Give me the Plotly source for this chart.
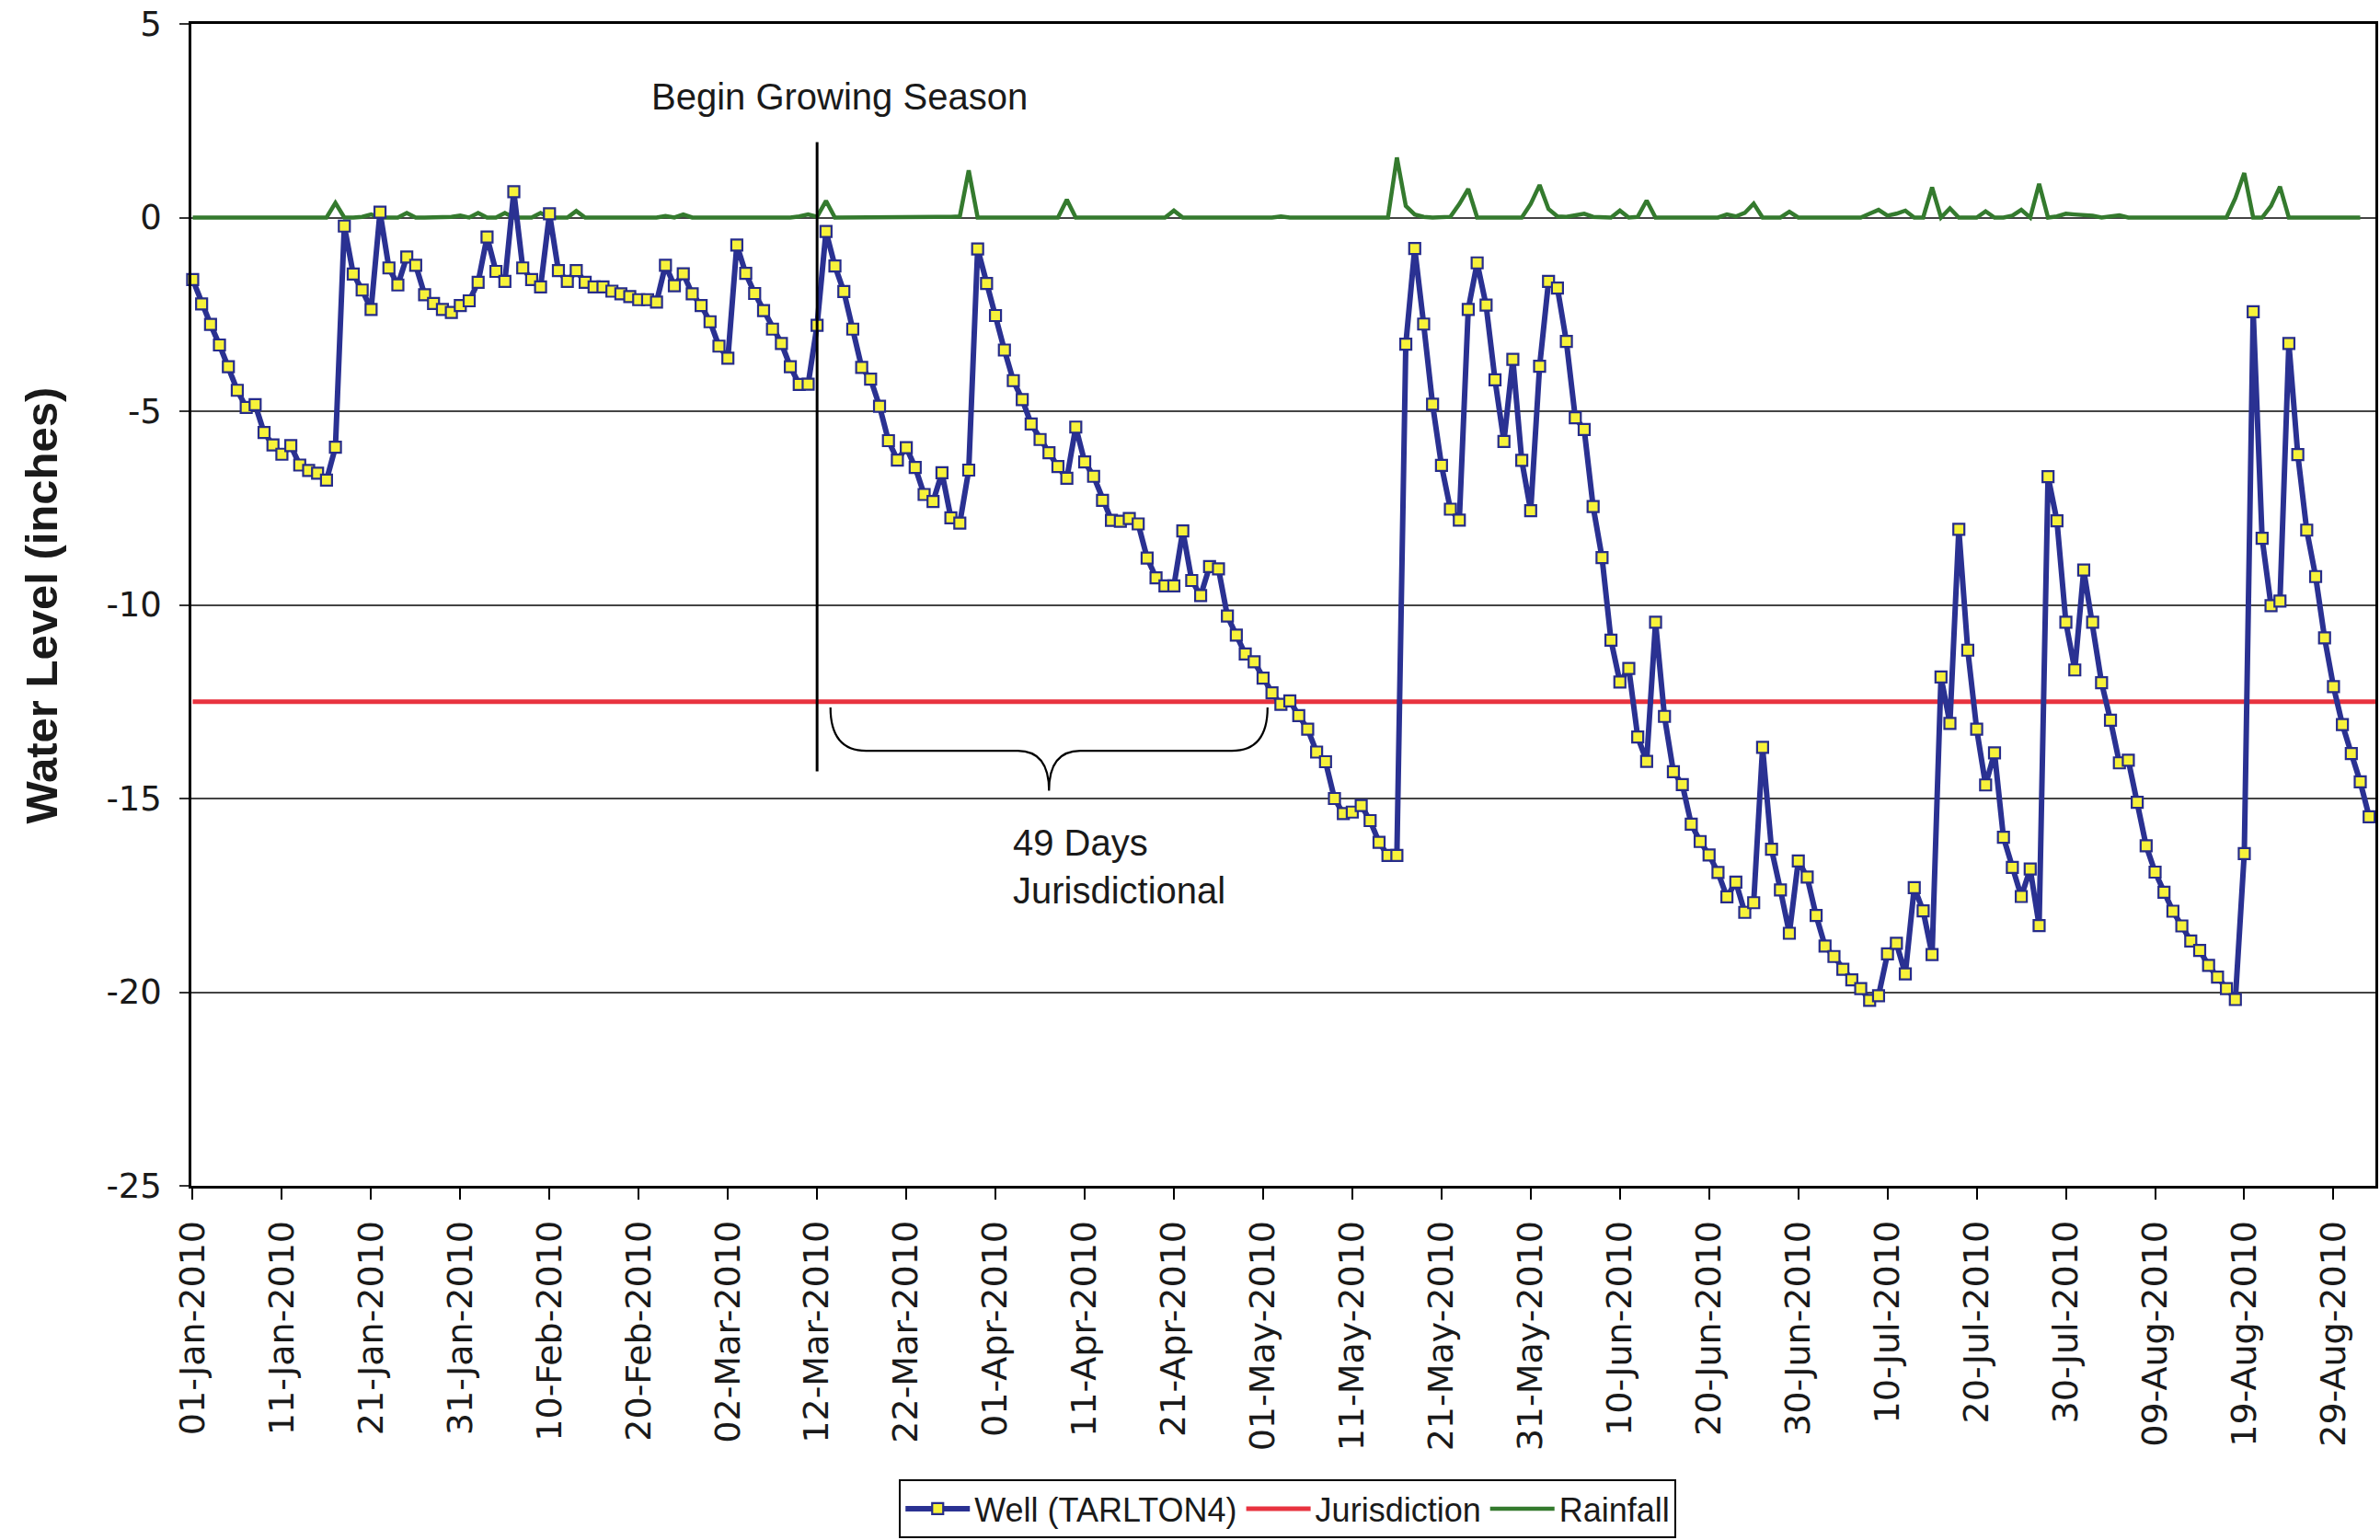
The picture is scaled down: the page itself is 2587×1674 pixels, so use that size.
import pandas as pd
import plotly.graph_objects as go

# ---- data -------------------------------------------------------------
START_DATE = "2010-01-01"

# daily well water level (inches), 01-Jan-2010 onwards
well_level = [
    -1.60, -2.23, -2.76, -3.29, -3.85, -4.46, -4.90, -4.83, -5.55, -5.87,
    -6.11, -5.89, -6.39, -6.53, -6.60, -6.78, -5.93, -0.22, -1.46, -1.87,
    -2.37, 0.14, -1.30, -1.74, -1.02, -1.23, -1.99, -2.22, -2.37, -2.45,
    -2.27, -2.15, -1.67, -0.50, -1.39, -1.65, 0.67, -1.30, -1.60, -1.79,
    0.10, -1.37, -1.65, -1.37, -1.67, -1.79, -1.79, -1.90, -1.97, -2.04,
    -2.12, -2.12, -2.18, -1.23, -1.76, -1.45, -1.97, -2.27, -2.69, -3.32,
    -3.63, -0.71, -1.44, -1.96, -2.40, -2.88, -3.25, -3.85, -4.31, -4.30,
    -2.78, -0.36, -1.25, -1.91, -2.88, -3.87, -4.17, -4.87, -5.76, -6.26,
    -5.94, -6.45, -7.15, -7.33, -6.59, -7.75, -7.89, -6.52, -0.81, -1.70,
    -2.53, -3.42, -4.21, -4.70, -5.33, -5.73, -6.07, -6.43, -6.73, -5.41,
    -6.31, -6.68, -7.30, -7.82, -7.84, -7.77, -7.91, -8.79, -9.30, -9.51,
    -9.51, -8.09, -9.37, -9.76, -9.01, -9.07, -10.29, -10.78, -11.27, -11.47,
    -11.89, -12.27, -12.57, -12.48, -12.86, -13.21, -13.80, -14.05, -15.00, -15.39,
    -15.35, -15.18, -15.57, -16.13, -16.47, -16.47, -3.27, -0.80, -2.75, -4.82,
    -6.40, -7.53, -7.81, -2.37, -1.17, -2.26, -4.19, -5.78, -3.66, -6.27,
    -7.57, -3.84, -1.65, -1.82, -3.20, -5.17, -5.47, -7.46, -8.78, -10.91,
    -11.99, -11.64, -13.41, -14.04, -10.45, -12.88, -14.31, -14.64, -15.66, -16.11,
    -16.46, -16.91, -17.54, -17.16, -17.94, -17.69, -13.68, -16.31, -17.36, -18.48,
    -16.61, -17.03, -18.02, -18.81, -19.08, -19.41, -19.68, -19.91, -20.21, -20.09,
    -19.01, -18.74, -19.53, -17.30, -17.90, -19.03, -11.86, -13.06, -8.05, -11.17,
    -13.21, -14.65, -13.82, -16.00, -16.78, -17.53, -16.82, -18.28, -6.69, -7.83,
    -10.45, -11.68, -9.10, -10.45, -12.01, -12.98, -14.08, -14.01, -15.10, -16.22,
    -16.90, -17.42, -17.91, -18.29, -18.68, -18.92, -19.31, -19.61, -19.91, -20.19,
    -16.42, -2.43, -8.28, -10.02, -9.90, -3.25, -6.12, -8.07, -9.27, -10.85,
    -12.11, -13.09, -13.84, -14.57, -15.47,
]

# daily rainfall (inches), same start date
rainfall = [
    0, 0, 0, 0, 0, 0, 0, 0, 0, 0,
    0, 0, 0, 0, 0, 0, 0.38, 0, 0, 0.02,
    0.08, 0, 0, 0, 0.12, 0, 0, 0, 0, 0.02,
    0.05, 0, 0.12, 0, 0, 0.12, 0, 0, 0, 0.12,
    0, 0, 0, 0.17, 0, 0, 0, 0, 0, 0,
    0, 0, 0, 0.04, 0, 0.08, 0, 0, 0, 0,
    0, 0, 0, 0, 0, 0, 0, 0, 0.03, 0.08,
    0.02, 0.43, 0, 0, 0, 0, 0, 0, 0, 0,
    0, 0, 0, 0, 0, 0.02, 0.03, 1.22, 0, 0,
    0, 0, 0, 0, 0, 0, 0, 0, 0.46, 0,
    0, 0, 0, 0, 0, 0, 0, 0, 0, 0,
    0.18, 0, 0, 0, 0, 0, 0, 0, 0, 0.02,
    0, 0, 0.03, 0, 0, 0, 0, 0, 0, 0,
    0, 0, 0, 0, 0, 1.55, 0.30, 0.08, 0.02, 0,
    0, 0.02, 0.35, 0.74, 0, 0, 0, 0, 0, 0,
    0.35, 0.84, 0.22, 0.03, 0.02, 0.05, 0.10, 0.02, 0, 0,
    0.18, 0, 0.02, 0.44, 0, 0, 0, 0, 0, 0,
    0, 0, 0.08, 0.03, 0.12, 0.36, 0, 0, 0, 0.15,
    0, 0, 0, 0, 0, 0, 0, 0, 0.10, 0.20,
    0.05, 0.10, 0.18, 0, 0, 0.78, 0, 0.24, 0, 0,
    0, 0.16, 0, 0, 0.05, 0.20, 0, 0.87, 0, 0.03,
    0.10, 0.08, 0.06, 0.05, 0, 0.03, 0.06, 0, 0, 0,
    0, 0, 0, 0, 0, 0, 0, 0, 0, 0.50,
    1.15, 0, 0, 0.30, 0.80, 0, 0, 0, 0, 0,
    0, 0, 0, 0,
]

jurisdiction_level = -12.5
jurisdiction_span = ["2010-01-01", "2010-09-03"]

tick_dates = [
    "2010-01-01", "2010-01-11", "2010-01-21", "2010-01-31", "2010-02-10",
    "2010-02-20", "2010-03-02", "2010-03-12", "2010-03-22", "2010-04-01",
    "2010-04-11", "2010-04-21", "2010-05-01", "2010-05-11", "2010-05-21",
    "2010-05-31", "2010-06-10", "2010-06-20", "2010-06-30", "2010-07-10",
    "2010-07-20", "2010-07-30", "2010-08-09", "2010-08-19", "2010-08-29",
]
tick_labels = [
    "01-Jan-2010", "11-Jan-2010", "21-Jan-2010", "31-Jan-2010", "10-Feb-2010",
    "20-Feb-2010", "02-Mar-2010", "12-Mar-2010", "22-Mar-2010", "01-Apr-2010",
    "11-Apr-2010", "21-Apr-2010", "01-May-2010", "11-May-2010", "21-May-2010",
    "31-May-2010", "10-Jun-2010", "20-Jun-2010", "30-Jun-2010", "10-Jul-2010",
    "20-Jul-2010", "30-Jul-2010", "09-Aug-2010", "19-Aug-2010", "29-Aug-2010",
]
y_tick_values = [5, 0, -5, -10, -15, -20, -25]
y_tick_labels = ["5", "0", "-5", "-10", "-15", "-20", "-25"]

growing_season_start = "2010-03-12"

# ---- figure -----------------------------------------------------------
well_dates = pd.date_range(START_DATE, periods=len(well_level), freq="D")
rain_dates = well_dates[: len(rainfall)]

TEXT_FONT = "Liberation Sans, Arial, sans-serif"
TICK_FONT = "DejaVu Sans, Liberation Sans, sans-serif"

fig = go.Figure()

fig.add_trace(go.Scatter(
    x=jurisdiction_span, y=[jurisdiction_level, jurisdiction_level],
    mode="lines", name="Jurisdiction", legendrank=2,
    line=dict(color="#e8333f", width=5),
))
fig.add_trace(go.Scatter(
    x=rain_dates, y=rainfall,
    mode="lines", name="Rainfall", legendrank=3,
    line=dict(color="#347a2e", width=4.5),
))
fig.add_trace(go.Scatter(
    x=well_dates, y=well_level,
    mode="lines+markers", name="Well (TARLTON4)", legendrank=1,
    line=dict(color="#2a3192", width=6),
    marker=dict(symbol="square", size=12, color="#f7f23a",
                line=dict(color="#262c8a", width=2.2)),
    cliponaxis=False,
))

# growing-season marker line
fig.add_shape(type="line", xref="x", yref="y",
              x0=growing_season_start, x1=growing_season_start,
              y0=1.95, y1=-14.3,
              line=dict(color="black", width=3))

# curly brace spanning the jurisdictional period
brace_path = (
    "M 2010-03-13_12:00,-12.65 "
    "Q 2010-03-13_12:00,-13.77 2010-03-17_12:00,-13.77 "
    "L 2010-04-03_12:00,-13.77 "
    "Q 2010-04-07,-13.77 2010-04-07,-14.8 "
    "Q 2010-04-07,-13.77 2010-04-10_12:00,-13.77 "
    "L 2010-04-27_12:00,-13.77 "
    "Q 2010-05-01_12:00,-13.77 2010-05-01_12:00,-12.65"
)
fig.add_shape(type="path", xref="x", yref="y", path=brace_path,
              line=dict(color="black", width=2.2))

fig.add_annotation(x="2010-02-21 05:00", y=3.12, xref="x", yref="y",
                   text="Begin Growing Season", showarrow=False,
                   xanchor="left", yanchor="middle",
                   font=dict(family=TEXT_FONT, size=40, color="#1a1a1a"))
fig.add_annotation(x="2010-04-02 17:00", y=-16.76, xref="x", yref="y",
                   text="49 Days<br>Jurisdictional", showarrow=False,
                   xanchor="left", yanchor="middle", align="left",
                   font=dict(family=TEXT_FONT, size=40, color="#1a1a1a"))
fig.add_annotation(x=-0.0687, y=0.5, xref="paper", yref="paper",
                   text="Water Level (inches)", showarrow=False,
                   textangle=-90, xanchor="center", yanchor="middle",
                   font=dict(family=TEXT_FONT, size=49, color="#1a1a1a",
                             weight=700))

fig.update_xaxes(
    type="date",
    range=["2009-12-31 20:24", "2010-09-02 16:48"],
    tickmode="array", tickvals=tick_dates, ticktext=tick_labels,
    tickangle=-90,
    tickfont=dict(family=TICK_FONT, size=38, color="#1a1a1a"),
    ticks="outside", ticklen=12, tickwidth=2, tickcolor="black",
    ticklabelstandoff=8,
    showgrid=False, zeroline=False, automargin=False,
    showline=True, linecolor="black", linewidth=2.5, mirror=True,
)
fig.update_yaxes(
    range=[-25, 5],
    tickmode="array", tickvals=y_tick_values, ticktext=y_tick_labels,
    tickfont=dict(family=TICK_FONT, size=37, color="#1a1a1a"),
    ticks="outside", ticklen=10, tickwidth=1.5, tickcolor="#333",
    ticklabelstandoff=12,
    showgrid=True, gridcolor="#444444", gridwidth=1.5,
    zeroline=False, automargin=False,
    showline=True, linecolor="black", linewidth=2.5, mirror=True,
)

fig.update_layout(
    width=2587, height=1674, autosize=False,
    margin=dict(l=208, r=5, t=26, b=385, pad=0, autoexpand=False),
    paper_bgcolor="white", plot_bgcolor="white",
    showlegend=True,
    legend=dict(
        orientation="h", x=0.502, xanchor="center", y=-0.2526, yanchor="top",
        bgcolor="white", bordercolor="black", borderwidth=2,
        font=dict(family=TEXT_FONT, size=36, color="#1a1a1a"),
        itemwidth=70,
    ),
)

fig.write_html("out.html")
